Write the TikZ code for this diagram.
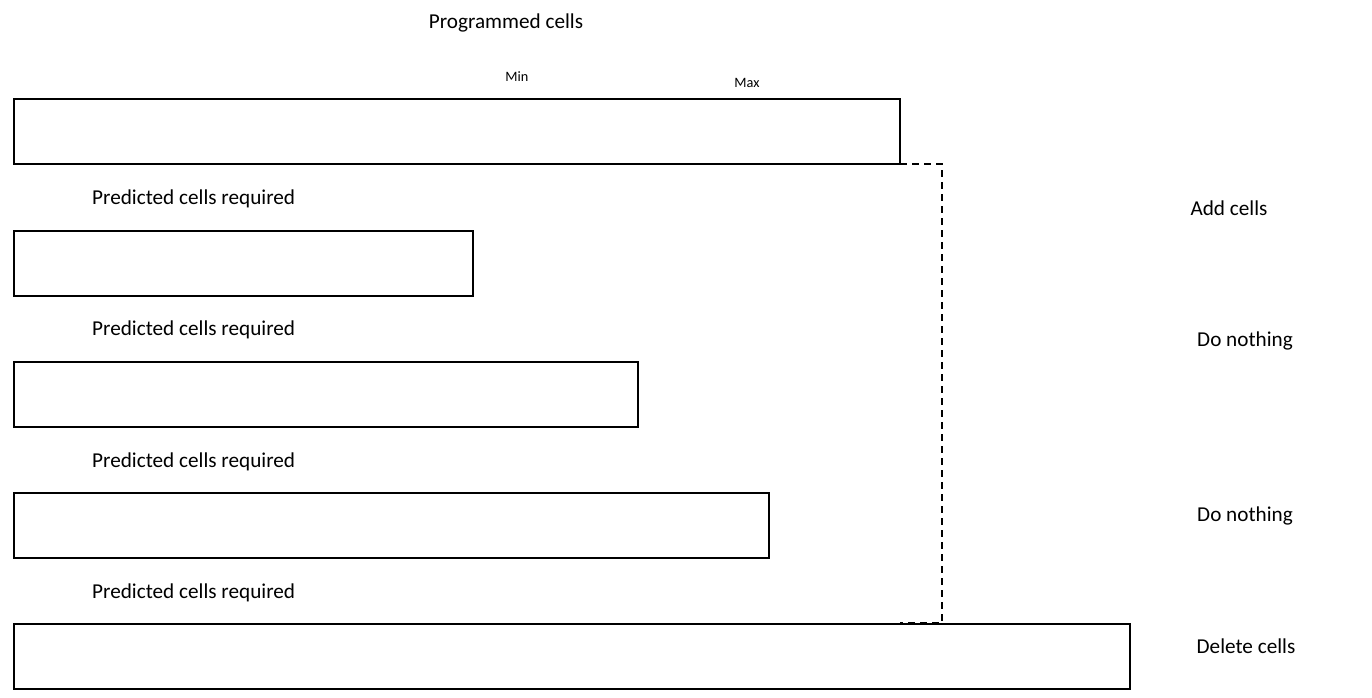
\documentclass[tikz,border=0pt]{standalone}
\usepackage{fontspec}
\setmainfont{Carlito}
\begin{document}
\begin{tikzpicture}[x=1pt,y=-1pt,
  bar/.style={draw=black,line width=1.8pt},
  lbl/.style={inner sep=0pt,font=\fontsize{21.2}{24}\selectfont},
  small/.style={inner sep=0pt,font=\fontsize{14.3}{16}\selectfont},
  guide/.style={draw=black,dashed,line width=2.4pt,dash pattern=on 7pt off 5pt}]
\useasboundingbox (0,0) rectangle (1372,698);
% boxes
\path[bar] (14,99) rectangle (900,164);
\coordinate (b1tr) at (900,164);
\path[bar] (14,231) rectangle (473,296);
\path[bar] (14,362) rectangle (638,427);
\path[bar] (14,493) rectangle (769,558);
\path[bar] (14,624) rectangle (1130,689);
\coordinate (b5tl) at (900,623);
\coordinate (c1) at (942,164);
\coordinate (c2) at (942,623);
\draw[guide] (b1tr) -- (c1) -- (c2) -- (b5tl);
% labels
\node[lbl] (prog) at (506,23) {Programmed cells};
\node[small] (min) at (517,77) {Min};
\node[small] (max) at (747,83) {Max};
\node[lbl,anchor=west] (p1) at (92,199) {Predicted cells required};
\node[lbl,anchor=west] (p2) at (92,330) {Predicted cells required};
\node[lbl,anchor=west] (p3) at (92,462) {Predicted cells required};
\node[lbl,anchor=west] (p4) at (92,593) {Predicted cells required};
\node[lbl] (r1) at (1229,208) {Add cells};
\node[lbl] (r2) at (1245,340.5) {Do nothing};
\node[lbl] (r3) at (1245,515.5) {Do nothing};
\node[lbl] (r4) at (1246,646) {Delete cells};
\end{tikzpicture}
\end{document}
